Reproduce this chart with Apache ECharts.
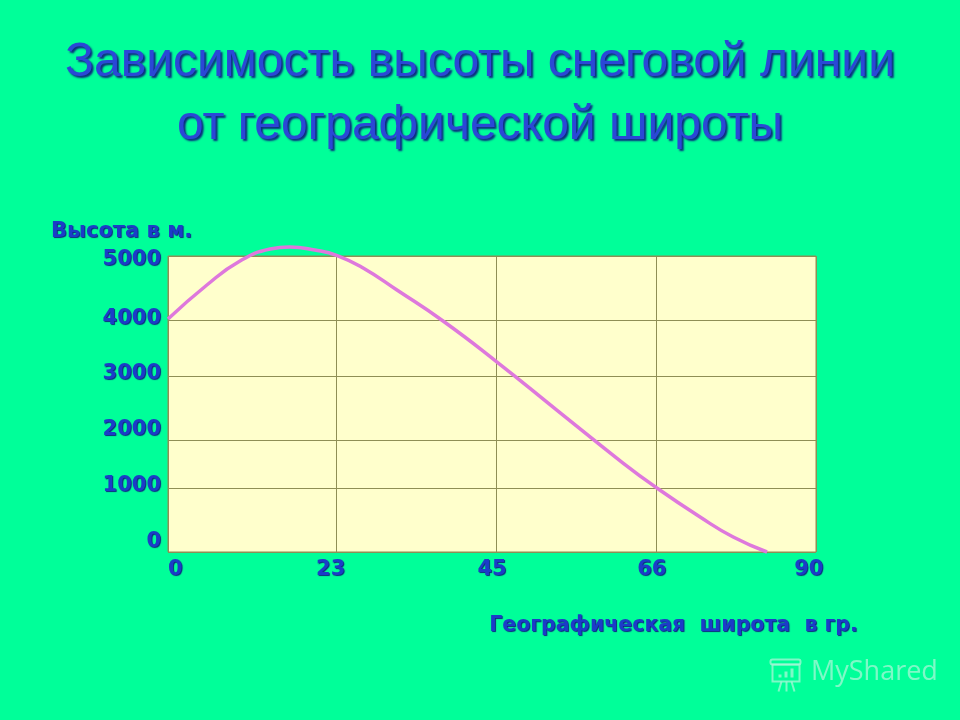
<!DOCTYPE html>
<html><head><meta charset="utf-8">
<style>html,body{margin:0;padding:0;background:#00ff99}#c{width:960px;height:720px}</style>
<script src="https://cdn.jsdelivr.net/npm/echarts@6/dist/echarts.min.js"></script>
</head><body><div id="c"></div>
<script>
const titleText = 'Зависимость высоты снеговой линии\nот географической широты';
const yAxisName = 'Высота в м.';
const xAxisName = 'Географическая  широта  в гр.';
const xTickLabels = ['0', '23', '45', '66', '90'];
const xLabelPositions = [1, 22.6, 45, 67.2, 89];
const xGridDegrees = [0, 23.3, 45.6, 67.8, 90];
const yLabelPositions = [169, 1121, 2066, 3006, 3951, 4932];
const yGridMetres = [0, 1081, 1892, 2973, 3919, 5000];
const latitude = [0, 5.4, 10, 14.2, 16.9, 20.4, 23.5, 27.1, 31.8, 38.2, 45.7, 54, 63.2, 67.9, 73.9, 78.5, 83.2];
const snowLine = [3935, 4510, 4915, 5118, 5152, 5101, 5008, 4797, 4425, 3902, 3209, 2398, 1503, 1081, 591, 253, 0];

const ink = '#1c3cc8', shade = '#0c2a80', rule = '#8f8f55';
const labelStyle = {color: ink, fontFamily: 'DejaVu Sans', fontWeight: 'bold', fontSize: 21, textShadowColor: shade, textShadowBlur: 1, textShadowOffsetX: 1, textShadowOffsetY: 1};
const chart = echarts.init(document.getElementById('c'), null, {renderer: 'canvas'});
chart.setOption({
  animation: false,
  backgroundColor: '#00ff99',
  title: {text: titleText, left: 'center', top: 26,
    textStyle: {color: '#2a48d6', fontFamily: 'Liberation Sans', fontWeight: 'normal', fontSize: 48, lineHeight: 63, align: 'center', textShadowColor: shade, textShadowBlur: 2, textShadowOffsetX: 2, textShadowOffsetY: 2}},
  grid: {left: 168, right: 144, top: 256, bottom: 168, show: true, backgroundColor: '#ffffcc', borderColor: rule, borderWidth: 1},
  xAxis: {type: 'value', min: 0, max: 90, name: xAxisName, nameLocation: 'middle', nameGap: 63,
    nameTextStyle: Object.assign({}, labelStyle, {fontSize: 20.5, padding: [0, 0, 0, 363]}),
    axisLine: {show: false},
    axisTick: {show: false, customValues: xGridDegrees},
    splitLine: {show: true, lineStyle: {color: rule, width: 1}},
    axisLabel: Object.assign({}, labelStyle, {margin: 7, customValues: xLabelPositions, hideOverlap: false, showMinLabel: true, showMaxLabel: true,
      formatter: v => xTickLabels[xLabelPositions.indexOf(v)]})},
  yAxis: {type: 'value', min: 0, max: 5000, name: yAxisName, nameLocation: 'end', nameGap: 14,
    nameTextStyle: Object.assign({}, labelStyle, {align: 'left', padding: [0, 0, 0, -117]}),
    axisLine: {show: false},
    axisTick: {show: false, customValues: yGridMetres},
    splitLine: {show: true, lineStyle: {color: rule, width: 1}},
    axisLabel: Object.assign({}, labelStyle, {margin: 7, customValues: yLabelPositions, hideOverlap: false, showMinLabel: true, showMaxLabel: true,
      formatter: v => String(Math.round(v / 1000) * 1000)})},
  series: [{type: 'line', clip: false, smooth: 0.5, showSymbol: false,
    data: latitude.map((d, i) => [d, snowLine[i]]),
    lineStyle: {color: '#de78dc', width: 3.5}}],
  graphic: [{type: 'text', left: 811, top: 659, style: {text: 'MyShared', fill: 'rgba(170,245,215,0.75)', font: '27px "Open Sans"'}},
    {type: 'group', left: 768, top: 657, children: [
      {type: 'rect', shape: {x: 3, y: 3, width: 30, height: 5, r: 2}, style: {fill: 'none', stroke: 'rgba(170,245,215,0.75)', lineWidth: 2}},
      {type: 'rect', shape: {x: 5, y: 8, width: 27, height: 17}, style: {fill: 'none', stroke: 'rgba(170,245,215,0.75)', lineWidth: 2}},
      {type: 'rect', shape: {x: 11, y: 18, width: 3, height: 3}, style: {fill: 'rgba(170,245,215,0.75)'}},
      {type: 'rect', shape: {x: 17, y: 15, width: 3, height: 6}, style: {fill: 'rgba(170,245,215,0.75)'}},
      {type: 'rect', shape: {x: 23, y: 12, width: 3, height: 9}, style: {fill: 'rgba(170,245,215,0.75)'}},
      {type: 'polyline', shape: {points: [[14, 25], [11, 35]]}, style: {stroke: 'rgba(170,245,215,0.75)', lineWidth: 2, fill: 'none'}},
      {type: 'polyline', shape: {points: [[19, 25], [19, 35]]}, style: {stroke: 'rgba(170,245,215,0.75)', lineWidth: 2, fill: 'none'}},
      {type: 'polyline', shape: {points: [[24, 25], [27, 35]]}, style: {stroke: 'rgba(170,245,215,0.75)', lineWidth: 2, fill: 'none'}}
    ]}]
});
</script></body></html>
